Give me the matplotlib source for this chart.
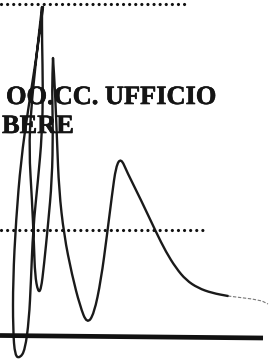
import matplotlib
matplotlib.use('Agg')
import matplotlib.pyplot as plt
from matplotlib.path import Path
from matplotlib.patches import PathPatch
import matplotlib.patheffects as pe
import numpy as np

# signature stroke (pixel coords, y goes down)
# points act as control points of a smooth quadratic path
sig_x = [43, 43, 36, 28, 21, 16, 13, 13, 15, 20, 25, 29, 31, 33, 38, 42, 43, 42, 42, 42,
         36, 31, 29, 32, 34, 35, 38, 41, 44, 48, 52, 53, 52, 53, 53,
         55, 57, 59, 64, 72, 80, 87, 94, 101, 107, 112, 116, 121,
         127, 141, 156, 166, 176, 186, 198, 212, 228]
sig_y = [7, 7, 60, 110, 160, 220, 280, 330, 356, 358, 350, 320, 280, 230, 180, 135, 90, 40, 7, 7,
         60, 110, 150, 200, 245, 275, 292, 290, 265, 225, 180, 130, 90, 58, 58,
         90, 140, 190, 235, 275, 306, 324, 314, 280, 235, 195, 166, 158,
         172, 200, 232, 252, 268, 280, 288, 293, 296]

# faint tail at the end of the signature
tail_x = [228, 240, 252, 262, 268]
tail_y = [296, 297.5, 299, 301, 304]

# dotted rules
dot_rows = [4, 230]
dot_ends = [190, 205]

# thick rule at the bottom
rule_x = [0, 263]
rule_y = [335.5, 338]

# printed heading
text_lines = ['OO.CC. UFFICIO', 'BERE']
text_x = [6, 2]
text_y = [104, 133]


def smooth_path(xs, ys):
    '''Builds a quadratic bezier path that uses the traced points as control points.'''
    pts = np.column_stack([xs, ys]).astype(float)
    verts = [pts[0]]
    codes = [Path.MOVETO]
    for i in range(1, len(pts) - 1):
        mid = (pts[i] + pts[i + 1]) / 2
        verts += [pts[i], mid]
        codes += [Path.CURVE3, Path.CURVE3]
    verts.append(pts[-1])
    codes.append(Path.LINETO)
    return Path(verts, codes)


def draw_page():
    '''Draws the scanned page with the heading, rules and the signature.'''
    fig = plt.figure(figsize=(2.71, 3.61), dpi=100)
    ax = fig.add_axes([0, 0, 1, 1])
    ax.set_xlim(0, 271)
    ax.set_ylim(361, 0)
    ax.axis('off')

    for y, x_end in zip(dot_rows, dot_ends):
        ax.plot([1, x_end], [y, y], color='#111111', lw=2.3,
                linestyle=(0, (0.01, 1.9)), dash_capstyle='round')

    ax.plot(rule_x, rule_y, color='#111111', lw=3.4, solid_capstyle='butt')

    for t, x, y in zip(text_lines, text_x, text_y):
        ax.text(x, y, t, fontsize=19, fontweight='bold', family='Liberation Serif',
                color='#141414', va='baseline', ha='left',
                path_effects=[pe.withStroke(linewidth=0.45, foreground='#141414')])

    sig = PathPatch(smooth_path(sig_x, sig_y), fill=False, edgecolor='#1a1a1a',
                    lw=1.7, joinstyle='round', capstyle='round')
    ax.add_patch(sig)
    ax.plot(tail_x, tail_y, color='#777777', lw=0.8, linestyle=(0, (3, 1.5)),
            solid_capstyle='round')

    fig.savefig('out.png', dpi=100)


def main():
    draw_page()


if __name__ == "__main__":
    main()
